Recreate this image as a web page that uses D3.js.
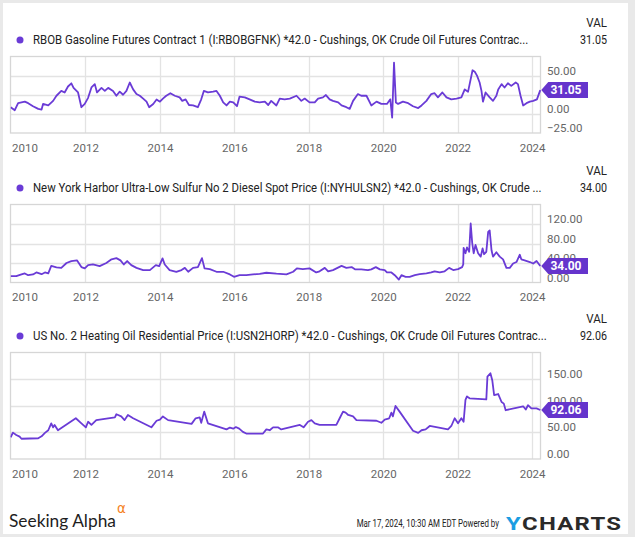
<!DOCTYPE html>
<html><head><meta charset="utf-8">
<script src="https://cdn.jsdelivr.net/npm/d3@7"></script>
<style>body{margin:0;background:#fff}svg{display:block}</style>
</head><body>
<script>
// ---------- DATA (decimal year, value) ----------
const rbobSpread = [
[2009.99,8.7],[2010.10,4.8],[2010.19,14],[2010.37,16],[2010.46,14],[2010.59,10],[2010.73,6.5],[2010.82,5.6],[2010.86,13],[2011.00,11],
[2011.13,17],[2011.22,23.7],[2011.35,30],[2011.44,28],[2011.53,35.8],[2011.62,40],[2011.68,34],[2011.76,30],[2011.80,28],[2011.89,8.7],
[2011.98,13],[2012.07,21],[2012.16,34.5],[2012.25,38.9],[2012.31,28],[2012.43,34],[2012.52,30],[2012.61,34],[2012.74,30],[2012.83,23.7],
[2012.92,29],[2013.01,25],[2013.10,30],[2013.19,41],[2013.28,32],[2013.37,26],[2013.46,23.7],[2013.55,20],[2013.64,16],[2013.71,8.7],
[2013.82,13],[2013.91,18.8],[2014.00,16],[2014.08,20],[2014.17,23.7],[2014.28,27],[2014.40,23.7],[2014.53,21.6],[2014.60,17],[2014.69,19],
[2014.78,11.6],[2014.89,11],[2015.02,8.7],[2015.11,19],[2015.18,30],[2015.29,28],[2015.43,29],[2015.52,30],[2015.61,23.7],[2015.70,15],
[2015.79,11],[2015.88,16],[2015.97,15],[2016.07,10],[2016.14,22.6],[2016.28,21.6],[2016.41,19],[2016.55,16],[2016.68,15],[2016.82,16],
[2016.91,11.6],[2016.99,17],[2017.13,11],[2017.22,20],[2017.35,19],[2017.49,20],[2017.67,23.7],[2017.80,17],[2017.89,20],[2018.02,15],
[2018.16,15],[2018.25,20],[2018.38,21.6],[2018.46,24.6],[2018.56,19],[2018.65,17],[2018.79,15],[2018.88,11],[2019.01,8.7],[2019.10,6.5],
[2019.19,17],[2019.32,25.9],[2019.41,23.7],[2019.55,23.7],[2019.68,11],[2019.82,16],[2019.95,13],[2020.10,13],[2020.19,19],[2020.24,-5],
[2020.29,67],[2020.34,15],[2020.40,13],[2020.53,16],[2020.67,14],[2020.80,10],[2020.94,7.6],[2021.03,11],[2021.16,17],[2021.29,25.9],
[2021.38,27],[2021.47,21.6],[2021.59,28],[2021.70,21.6],[2021.83,19],[2021.97,20],[2022.10,21.6],[2022.19,32],[2022.28,29],[2022.40,57],
[2022.46,55],[2022.52,50],[2022.59,41],[2022.64,30],[2022.68,16],[2022.75,28],[2022.86,21.6],[2022.95,17],[2023.04,23.7],[2023.09,32],
[2023.18,38.9],[2023.26,34.5],[2023.35,40],[2023.44,36.6],[2023.56,41],[2023.62,38.9],[2023.69,23.7],[2023.76,11],[2023.85,14],[2023.94,16],
[2024.03,17],[2024.13,19],[2024.22,31.05]
];
const dieselSpread = [
[2009.99,13],[2010.14,13],[2010.28,16.5],[2010.37,18.6],[2010.46,15],[2010.59,16.5],[2010.68,20.6],[2010.82,17],[2010.91,20.6],[2011.00,18.6],
[2011.08,34],[2011.22,31],[2011.35,30],[2011.49,40],[2011.62,44],[2011.77,45.4],[2011.89,31.6],[2011.98,28.9],[2012.07,35.7],[2012.20,37],
[2012.38,33.6],[2012.56,40],[2012.70,47.5],[2012.83,50],[2012.94,45.4],[2013.03,37],[2013.12,44],[2013.23,35.7],[2013.37,30],[2013.55,25.5],
[2013.73,25.5],[2013.89,35.7],[2013.98,33.6],[2014.07,49.5],[2014.13,37],[2014.26,25.5],[2014.44,22],[2014.58,25.5],[2014.67,30],[2014.76,22],
[2014.89,30],[2015.02,31.6],[2015.13,50],[2015.20,28.9],[2015.34,27.5],[2015.52,22],[2015.70,22],[2015.88,16.5],[2015.99,11.6],[2016.14,15],
[2016.32,15],[2016.50,16.5],[2016.68,17.9],[2016.86,20],[2017.13,18],[2017.40,16.5],[2017.58,22],[2017.68,29],[2017.84,27.5],[2018.02,29],
[2018.20,20.6],[2018.29,23],[2018.43,30],[2018.52,23],[2018.65,25.5],[2018.88,34],[2019.01,30],[2019.15,31.6],[2019.24,27],[2019.41,27],
[2019.59,25.5],[2019.68,27],[2019.80,31.6],[2019.91,27],[2020.04,25.5],[2020.10,20.6],[2020.22,20.6],[2020.31,15],[2020.42,6],[2020.49,15],
[2020.60,11.6],[2020.71,11.6],[2020.85,15],[2020.98,17],[2021.16,18.6],[2021.29,20.6],[2021.38,23],[2021.52,20.6],[2021.65,23],[2021.77,30],
[2021.88,25.5],[2022.01,27.5],[2022.12,31.6],[2022.15,37],[2022.16,71],[2022.21,60],[2022.25,72],[2022.31,63],[2022.35,121],[2022.39,82],
[2022.43,60],[2022.48,77],[2022.55,60],[2022.62,53],[2022.67,70],[2022.71,58],[2022.77,63],[2022.82,104],[2022.86,107],[2022.91,66],
[2022.95,53],[2023.04,62],[2023.13,53],[2023.22,47.5],[2023.31,30],[2023.40,30],[2023.49,39],[2023.58,42],[2023.67,57],[2023.71,47.5],
[2023.80,45.4],[2023.94,42],[2024.03,39],[2024.12,44],[2024.22,34]
];
const heatingSpread = [
[2009.99,40.8],[2010.05,49.5],[2010.14,45],[2010.23,42],[2010.28,38],[2010.73,39],[2010.82,42.6],[2010.91,49],[2011.00,54],[2011.08,67],
[2011.13,59.5],[2011.17,64],[2011.26,54],[2011.74,76.5],[2011.89,67],[2012.01,59.5],[2012.07,70],[2012.16,64],[2012.29,73],[2012.79,78.3],
[2012.83,84],[2012.96,80],[2013.05,73],[2013.14,82.7],[2013.28,76.5],[2013.77,59.5],[2013.91,71.8],[2014.00,74],[2014.08,80],[2014.22,73],
[2014.85,66],[2014.96,76.5],[2015.07,78],[2015.11,68],[2015.19,89],[2015.29,67],[2015.79,55.6],[2015.88,59],[2015.97,57],[2016.04,60],
[2016.13,57],[2016.23,51],[2016.32,47.8],[2016.77,47.8],[2016.86,55.6],[2016.95,54],[2017.04,59.5],[2017.17,59.5],[2017.26,55.6],[2017.76,64],
[2017.86,59.5],[2017.98,70],[2018.07,73],[2018.16,67],[2018.29,64],[2018.74,64],[2018.83,76.5],[2018.92,89],[2018.99,87],[2019.06,82.7],
[2019.19,80],[2019.28,73],[2019.82,71.8],[2019.95,68],[2020.04,74],[2020.16,76.5],[2020.22,87],[2020.26,80],[2020.33,99.6],[2020.44,89],
[2020.80,53],[2020.94,49],[2021.03,54],[2021.14,55.6],[2021.25,62],[2021.74,55.6],[2021.83,62],[2021.92,76.5],[2022.01,67],[2022.10,76.5],
[2022.16,70],[2022.21,111],[2022.25,117.5],[2022.32,114],[2022.77,112],[2022.80,154.7],[2022.88,161],[2022.93,148],[2022.98,120],[2023.09,122],
[2023.18,107],[2023.24,104],[2023.29,91.6],[2023.76,99],[2023.83,93],[2023.89,101],[2023.98,95],[2024.12,95],[2024.22,92.06]
];
const seriesNames = [
  "RBOB Gasoline Futures Contract 1 (I:RBOBGFNK) *42.0 - Cushings, OK Crude Oil Futures Contrac...",
  "New York Harbor Ultra-Low Sulfur No 2 Diesel Spot Price (I:NYHULSN2) *42.0 - Cushings, OK Crude ...",
  "US No. 2 Heating Oil Residential Price (I:USN2HORP) *42.0 - Cushings, OK Crude Oil Futures Contrac..."
];
const lastValues = ["31.05", "34.00", "92.06"];
// tick labels shown on the right axis (the 25.00 tick of panel 1 sits fully under the value badge)
const yTickLabels = [[-25, 0, 50], [0, 40, 80, 120], [0, 50, 100, 150]];
const yGridTicks = [[0, 25, 50], [40, 80, 120], [50, 100, 150]];
const yDomains = [[-25, 75], [0, 160], [0, 200]];
const yearTicks = [2010, 2012, 2014, 2016, 2018, 2020, 2022, 2024];
const footerDate = "Mar 17, 2024, 10:30 AM EDT Powered by";

// ---------- LAYOUT ----------
const W = 635, H = 537;
const LINE = "#6a3bd6", BADGE = "#6534cc";
const layout = [
  {top: 56.5, bottom: 133, valY: 23, legY: 40, legW: 496},
  {top: 204.5, bottom: 282.5, valY: 171, legY: 188, legW: 509},
  {top: 352.5, bottom: 459, valY: 319, legY: 336, legW: 514}
];
const L = 10.5, R = 540.5;
const allData = [rbobSpread, dieselSpread, heatingSpread];

const svg = d3.select("body").append("svg").attr("width", W).attr("height", H)
  .style("font-family", "Roboto, sans-serif");
svg.append("rect").attr("width", W).attr("height", H).attr("fill", "#e9e9e9");
svg.append("rect").attr("x", 3).attr("y", 3).attr("width", 625).attr("height", 531).attr("fill", "#fff");

// squeeze a text horizontally so that it spans `width` px starting at x (anchor start) or ending at x (anchor end)
function fitText(g, x, y, width, anchor) {
  const t = g.select("text");
  t.attr("text-anchor", anchor || "start");
  const n = t.node().getBBox().width;
  const s = Math.min(1.3, width / n);
  g.attr("transform", `translate(${x},${y}) scale(${s},1)`);
}

const x = d3.scaleLinear().domain([2009.985, 2024.226]).range([L, R]);

layout.forEach((p, i) => {
  const g = svg.append("g");
  const y = d3.scaleLinear().domain(yDomains[i]).range([p.bottom, p.top]);

  // legend
  g.append("circle").attr("cx", 20).attr("cy", p.legY).attr("r", 3.5).attr("fill", LINE);
  const lg = g.append("g");
  lg.append("text").attr("dy", "0.35em").attr("font-size", 12.5).attr("fill", "#222").text(seriesNames[i]);
  fitText(lg, 33, p.legY, p.legW, "start");
  const vg1 = g.append("g");
  vg1.append("text").attr("dy", "0.35em").attr("font-size", 12.5).attr("fill", "#222").text("VAL");
  fitText(vg1, 607, p.valY, 21, "end");
  const vg2 = g.append("g");
  vg2.append("text").attr("dy", "0.35em").attr("font-size", 12.5).attr("fill", "#222").text(lastValues[i]);
  fitText(vg2, 607, p.legY, 27, "end");

  // grid
  g.selectAll(".hg").data(yGridTicks[i]).enter().append("line")
    .attr("x1", L).attr("x2", R).attr("y1", d => Math.round(y(d)) + 0.5).attr("y2", d => Math.round(y(d)) + 0.5)
    .attr("stroke", "#e3e3e3").attr("stroke-width", 1.3);
  g.selectAll(".vg").data(yearTicks.slice(1)).enter().append("line")
    .attr("x1", d => Math.round(x(d)) + 0.5).attr("x2", d => Math.round(x(d)) + 0.5)
    .attr("y1", p.top).attr("y2", p.bottom).attr("stroke", "#e3e3e3").attr("stroke-width", 1.3);
  g.append("rect").attr("x", L).attr("y", p.top).attr("width", R - L).attr("height", p.bottom - p.top)
    .attr("fill", "none").attr("stroke", "#d6d6d6").attr("stroke-width", 1.3);

  // x axis labels
  const xa = d3.axisBottom(x).tickValues(yearTicks).tickFormat(d3.format("d")).tickSize(0).tickPadding(0);
  const xg = g.append("g").attr("transform", `translate(0,${p.bottom})`).call(xa);
  xg.select(".domain").remove();
  xg.selectAll("text").attr("font-size", 11.5).attr("fill", "#666").attr("font-family", "Roboto, sans-serif")
    .attr("dy", 0).attr("y", 18.5)
    .attr("text-anchor", d => d === 2010 ? "start" : "middle")
    .attr("x", d => d === 2010 ? 11.5 - x(2010) : 0);

  // y axis labels
  const ya = d3.axisRight(y).tickValues(yTickLabels[i]).tickFormat(d3.format(".2f")).tickSize(0).tickPadding(0);
  const yg = g.append("g").attr("transform", `translate(547,0)`).call(ya);
  yg.select(".domain").remove();
  yg.selectAll("text").attr("font-size", 11.5).attr("fill", "#666").attr("font-family", "Roboto, sans-serif")
    .attr("x", 0).attr("dy", -1.5).attr("dominant-baseline", "auto");

  // line
  const clipId = "clip" + i;
  svg.append("clipPath").attr("id", clipId).append("rect")
    .attr("x", L).attr("y", p.top - 1).attr("width", R - L + 1).attr("height", p.bottom - p.top + 2);
  const line = d3.line().x(d => x(d[0])).y(d => y(d[1]));
  g.append("path").datum(allData[i]).attr("clip-path", `url(#${clipId})`)
    .attr("d", line).attr("fill", "none").attr("stroke", LINE).attr("stroke-width", 1.8)
    .attr("stroke-linejoin", "round");

  // badge
  const last = allData[i][allData[i].length - 1];
  const by = y(last[1]), bx = x(last[0]) + 1;
  const h = 8;
  g.append("path").attr("d", `M${bx},${by} L${bx + 7},${by - h} L${588},${by - h} L${588},${by + h} L${bx + 7},${by + h} Z`)
    .attr("fill", BADGE);
  g.append("text").attr("x", 566).attr("y", by).attr("dy", "0.36em").attr("text-anchor", "middle")
    .attr("font-size", 12).attr("font-weight", "bold").attr("fill", "#fff").text(lastValues[i]);
});

// ---------- FOOTER ----------
const f = svg.append("g");
const sa = f.append("g");
sa.append("text").attr("font-family", "Lato, sans-serif").attr("font-size", 17.5).attr("fill", "#1e1e1e").text("Seeking Alpha");
fitText(sa, 9, 527, 107, "start");
f.append("text").attr("x", 117).attr("y", 513).attr("font-family", "DejaVu Sans, sans-serif").attr("font-size", 13.5)
  .attr("fill", "#f5821f").text("α");
const fd = f.append("g");
fd.append("text").attr("font-size", 11.5).attr("fill", "#222").text(footerDate);
fitText(fd, 499, 527, 143, "end");
const yl = f.append("g");
const yc = yl.append("text").attr("font-size", 19).attr("font-weight", "bold")
  .attr("font-family", "Roboto, sans-serif").attr("letter-spacing", 1);
yc.append("tspan").attr("fill", "#1b9de2").text("Y");
yc.append("tspan").attr("fill", "#2a2a2a").text("CHARTS");
fitText(yl, 506, 530, 116, "start");
</script>
</body></html>
